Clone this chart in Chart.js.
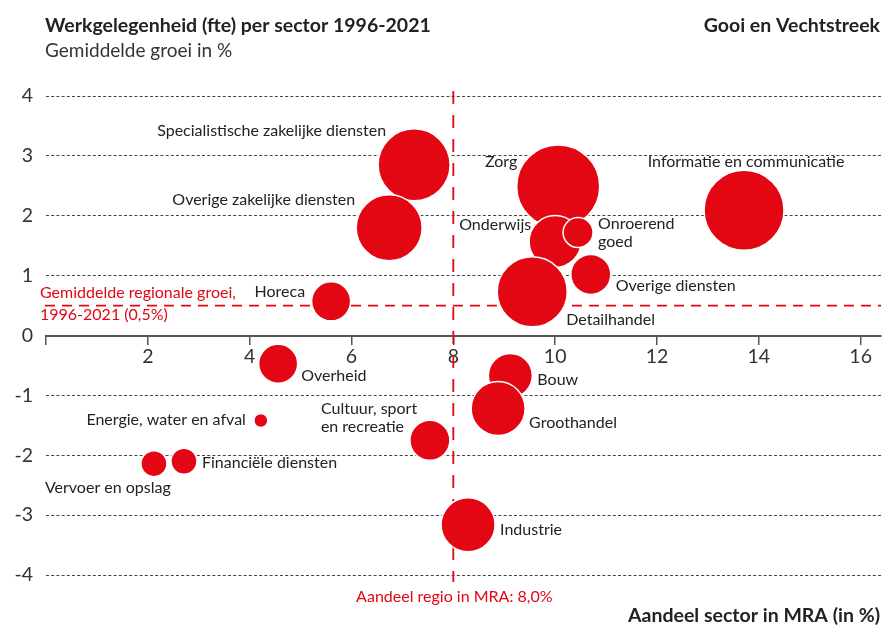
<!DOCTYPE html>
<html>
<head>
<meta charset="utf-8">
<script src="https://cdn.jsdelivr.net/npm/chart.js@4.4.1/dist/chart.umd.min.js"></script>
<style>
  html, body { margin: 0; padding: 0; background: #fff; }
</style>
</head>
<body>
<canvas id="chart" width="888" height="626"></canvas>
<script>
// sectoren, aandeel in MRA (x, %), gemiddelde groei (y, %), omvang (bubbelstraal)
const sectoren = [
  "Specialistische zakelijke diensten", "Overige zakelijke diensten", "Zorg",
  "Informatie en communicatie", "Onderwijs", "Onroerend goed", "Overige diensten",
  "Detailhandel", "Horeca", "Overheid", "Bouw", "Groothandel",
  "Cultuur, sport en recreatie", "Industrie", "Energie, water en afval",
  "Financiële diensten", "Vervoer en opslag"
];
const aandeel = [7.23, 6.74, 10.06, 13.71, 10.0, 10.45, 10.7, 9.55, 5.6, 4.56, 9.12, 8.88, 7.54, 8.29, 4.22, 2.71, 2.12];
const groei   = [2.85, 1.8, 2.49, 2.09, 1.57, 1.72, 1.02, 0.73, 0.57, -0.47, -0.67, -1.22, -1.75, -3.16, -1.42, -2.1, -2.14];
const omvang  = [36, 33, 41.5, 40, 26, 15, 20, 35, 19.5, 19.5, 22, 27, 20, 27, 7, 13, 13];

const xTicks = [0, 2, 4, 6, 8, 10, 12, 14, 16];
const yTicks = [-4, -3, -2, -1, 0, 1, 2, 3, 4];

const regioAandeel = 8.0;
const regioGroei = 0.5;

// label placement relative to bubble centre: [dx, dy, align, lines]
const labelPos = [
  [-28, -34, "right"], [-34, -28, "right"], [-41, -25, "right"], [2, -49, "center"],
  [-24, -17, "right"], [20, -9, "left", ["Onroerend", "goed"]], [25, 11, "left"],
  [34, 28, "left"], [-26, -10, "right"], [23, 12, "left"], [27, 4, "left"],
  [31, 14, "left"], [-109, -31, "left", ["Cultuur, sport", "en recreatie"]],
  [32, 5, "left"], [-15, -1, "right"], [18, 2, "left"], [-109, 24, "left"]
];

const RED = "#e30613";
const FONT = "Lato";

const refLines = {
  id: "refLines",
  beforeDatasetsDraw(chart) {
    const { ctx, scales: { x, y } } = chart;
    const px = x.getPixelForValue(regioAandeel);
    const py = y.getPixelForValue(regioGroei);
    ctx.save();
    ctx.strokeStyle = RED;
    ctx.lineWidth = 1.8;
    ctx.setLineDash([10, 7]);
    ctx.beginPath();
    ctx.moveTo(45, py);
    ctx.lineTo(chart.chartArea.right, py);
    ctx.stroke();
    ctx.setLineDash([13, 11]);
    ctx.beginPath();
    ctx.moveTo(px, 91);
    ctx.lineTo(px, 582);
    ctx.stroke();
    ctx.restore();
  }
};

const annotations = {
  id: "annotations",
  afterDatasetsDraw(chart) {
    const { ctx } = chart;
    const meta = chart.getDatasetMeta(0);
    ctx.save();
    ctx.font = "16px " + FONT;
    ctx.fillStyle = "#222";
    ctx.textBaseline = "middle";
    meta.data.forEach((pt, i) => {
      const [dx, dy, align, lines] = labelPos[i];
      ctx.textAlign = align;
      const txt = lines || [sectoren[i]];
      txt.forEach((t, k) => ctx.fillText(t, pt.x + dx, pt.y + dy + k * 18));
    });

    // reference line texts
    const px = chart.scales.x.getPixelForValue(regioAandeel);
    ctx.fillStyle = RED;
    ctx.textAlign = "left";
    ctx.textBaseline = "alphabetic";
    ctx.fillText("Gemiddelde regionale groei,", 40, 298);
    ctx.fillText("1996-2021 (0,5%)", 40, 320);
    ctx.textAlign = "center";
    ctx.fillText("Aandeel regio in MRA: 8,0%", px + 1, 602);

    // titles
    ctx.fillStyle = "#222";
    ctx.font = "bold 19.5px " + FONT;
    ctx.textAlign = "left";
    ctx.fillText("Werkgelegenheid (fte) per sector 1996-2021", 45, 32);
    ctx.textAlign = "right";
    ctx.fillText("Gooi en Vechtstreek", 880, 32);
    ctx.fillText("Aandeel sector in MRA (in %)", 880, 622);
    ctx.font = "19px " + FONT;
    ctx.fillStyle = "#333";
    ctx.textAlign = "left";
    ctx.fillText("Gemiddelde groei in %", 45, 57);
    ctx.restore();
  }
};

new Chart(document.getElementById("chart"), {
  type: "bubble",
  data: {
    datasets: [{
      data: sectoren.map((s, i) => ({ x: aandeel[i], y: groei[i], r: omvang[i] })),
      backgroundColor: RED,
      borderColor: "#fff",
      borderWidth: 1.5,
      clip: false
    }]
  },
  options: {
    responsive: false,
    animation: false,
    layout: { autoPadding: false, padding: { top: 96, right: 7, bottom: 51, left: 0 } },
    plugins: { legend: { display: false }, tooltip: { enabled: false } },
    scales: {
      x: {
        type: "linear",
        min: 0,
        max: 16.4,
        position: { y: 0 },
        afterFit: s => { s.height = 0; s.paddingLeft = 0; s.paddingRight = 0; },
        afterBuildTicks: s => { s.ticks = xTicks.map(v => ({ value: v })); },
        grid: { drawOnChartArea: false, drawTicks: true, tickLength: 8, color: "#555", lineWidth: 1.5 },
        border: { color: "#555", width: 2 },
        ticks: {
          color: "#333",
          font: { family: FONT, size: 19.5 },
          padding: 2,
          maxRotation: 0,
          callback: v => (v === 0 ? "" : v)
        }
      },
      y: {
        min: -4,
        max: 4,
        afterFit: s => { s.width = 46; s.paddingTop = 0; s.paddingBottom = 0; },
        afterBuildTicks: s => { s.ticks = yTicks.map(v => ({ value: v })); },
        grid: { color: "#444", lineWidth: 1, drawTicks: false },
        border: { display: false, dash: [3, 2.2] },
        ticks: {
          color: "#333",
          font: { family: FONT, size: 19.5 },
          padding: 13
        }
      }
    }
  },
  plugins: [refLines, annotations]
});
</script>
</body>
</html>
